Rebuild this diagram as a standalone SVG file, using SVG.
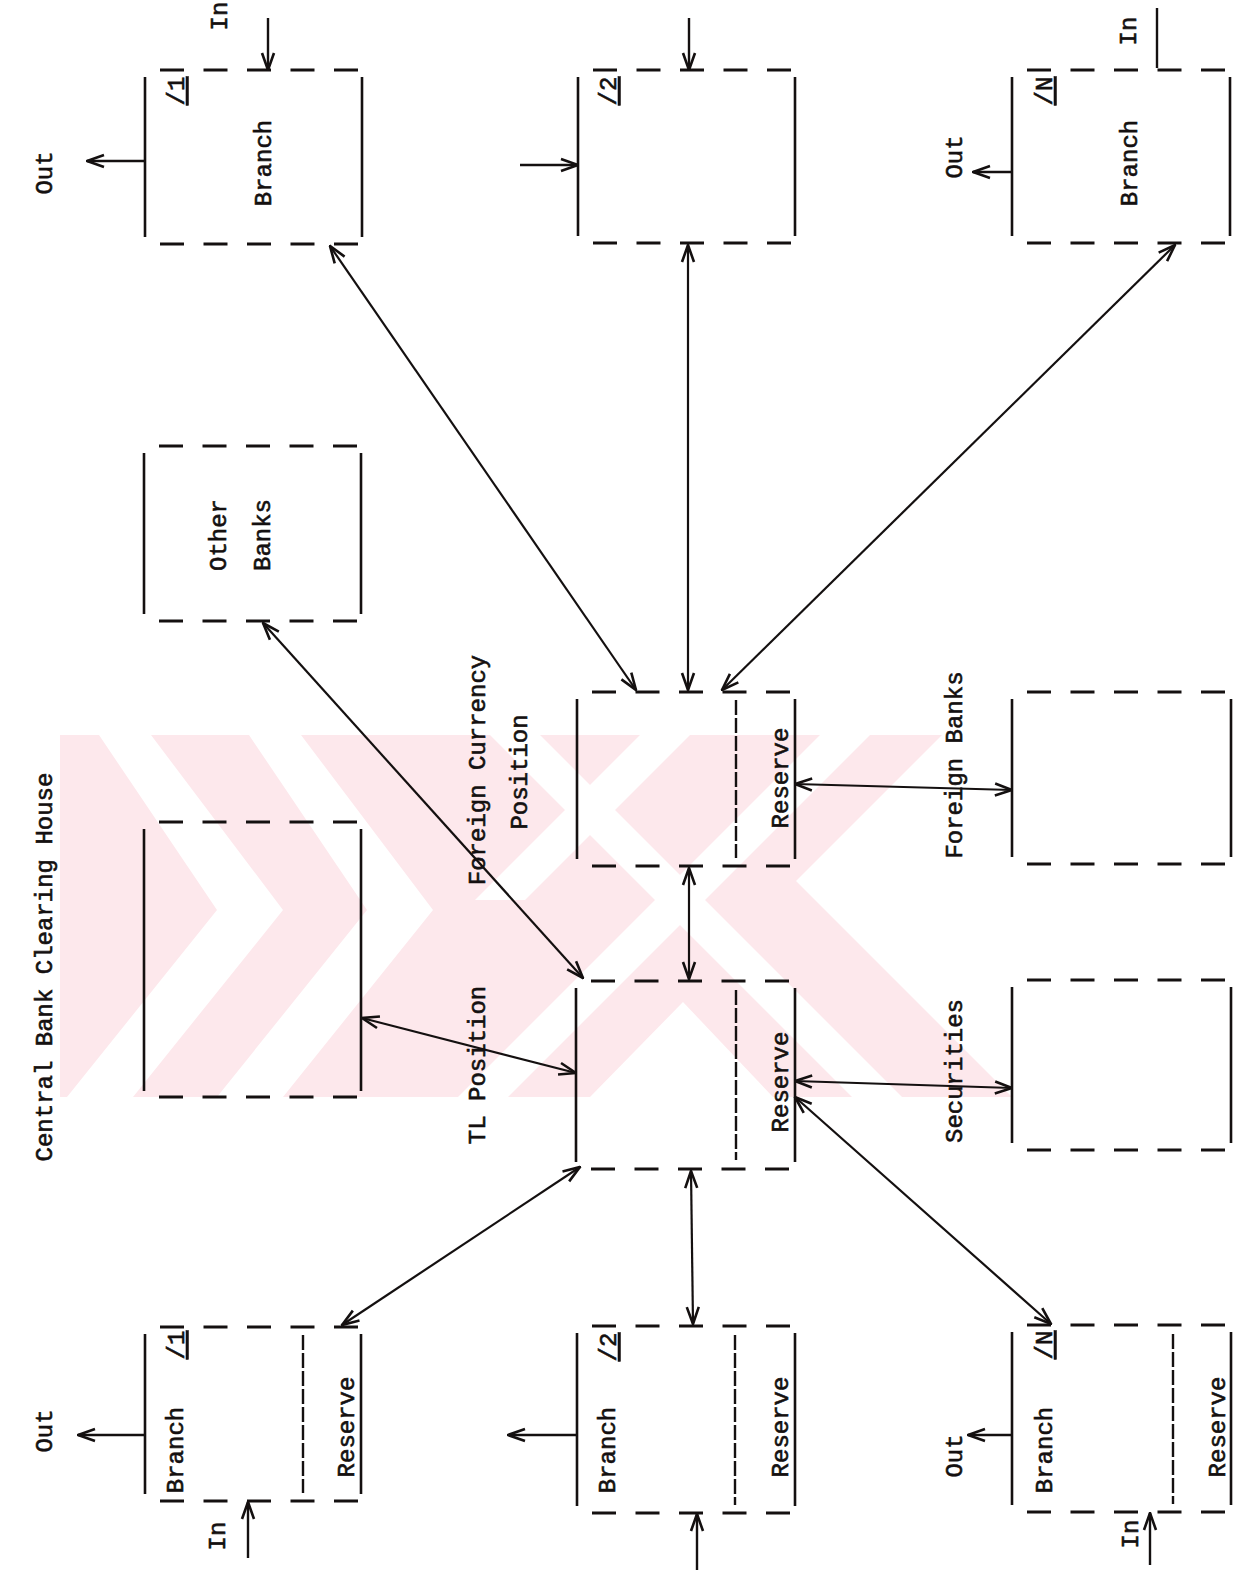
<svg xmlns="http://www.w3.org/2000/svg" width="1248" height="1572" viewBox="0 0 1248 1572">
<style>
.bg{fill:#ffffff}
.wm{fill:#fde8ec}
.wmw{fill:#ffffff}
.solid{stroke:#141010;stroke-width:2.6;fill:none}
.dash{stroke:#141010;stroke-width:3;fill:none;stroke-dasharray:24 19.5}
.inner{stroke:#141010;stroke-width:2.4;fill:none;stroke-dasharray:15 3}
.conn{stroke:#141010;stroke-width:2.2;fill:none;marker-start:url(#ah);marker-end:url(#ah)}
.one{stroke:#141010;stroke-width:2.4;fill:none;marker-end:url(#ah)}
.plain{stroke:#141010;stroke-width:2.4;fill:none}
text{font-family:"Liberation Mono","Courier New",monospace;font-size:24px;fill:#141010;stroke:#141010;stroke-width:0.6;text-anchor:middle}
.ul{text-decoration:underline}
</style>
<defs>
<marker id="ah" viewBox="0 0 20 16" markerWidth="20" markerHeight="16" refX="19" refY="8" orient="auto-start-reverse" markerUnits="userSpaceOnUse">
<path d="M2,2 L19,8 L2,14" fill="none" stroke="#141010" stroke-width="2.6"/>
</marker>
</defs>
<rect class="bg" x="0" y="0" width="1248" height="1572"/>

<g id="watermark">
<polygon class="wm" points="60,735 942,735 796,881 1012,1097 60,1097"/>
<polygon class="wmw" points="99,735 151,735 283,910 133,1097 67,1097 217,910"/>
<polygon class="wmw" points="249,735 301,735 433,910 283,1097 217,1097 367,910"/>
<polygon class="wmw" points="820,735 870,735 508,1097 458,1097"/>
<polygon class="wmw" points="490,735 540,735 902,1097 852,1097"/>
<polygon class="wmw" points="640,735 690,735 525,900 475,900"/>
<polygon class="wmw" points="683,1002 773,1097 590,1097"/>
</g>

<g id="branch1-top">
<line class="solid" x1="145" y1="77" x2="145" y2="237"/>
<line class="solid" x1="362" y1="77" x2="362" y2="237"/>
<line class="dash" x1="160" y1="70" x2="359" y2="70"/>
<line class="dash" x1="160" y1="244" x2="359" y2="244"/>
<text class="ul" transform="translate(184,91) rotate(-90)">/1</text>
<text transform="translate(271,163) rotate(-90)">Branch</text>
<text transform="translate(52,173) rotate(-90)">Out</text>
<text transform="translate(227,16) rotate(-90)">In</text>
</g>

<g id="branch2-top">
<line class="solid" x1="578" y1="77" x2="578" y2="236"/>
<line class="solid" x1="795" y1="77" x2="795" y2="236"/>
<line class="dash" x1="593" y1="70" x2="792" y2="70"/>
<line class="dash" x1="593" y1="243" x2="792" y2="243"/>
<text class="ul" transform="translate(616,91) rotate(-90)">/2</text>
</g>

<g id="branchN-top">
<line class="solid" x1="1012" y1="77" x2="1012" y2="236"/>
<line class="solid" x1="1230" y1="77" x2="1230" y2="236"/>
<line class="dash" x1="1027" y1="70" x2="1226" y2="70"/>
<line class="dash" x1="1027" y1="243" x2="1226" y2="243"/>
<text class="ul" transform="translate(1052,91) rotate(-90)">/N</text>
<text transform="translate(1137,163) rotate(-90)">Branch</text>
<text transform="translate(962,157) rotate(-90)">Out</text>
<text transform="translate(1136,31) rotate(-90)">In</text>
</g>

<g id="other-banks">
<line class="solid" x1="144" y1="453" x2="144" y2="614"/>
<line class="solid" x1="361" y1="453" x2="361" y2="614"/>
<line class="dash" x1="159" y1="446" x2="358" y2="446"/>
<line class="dash" x1="159" y1="621" x2="358" y2="621"/>
<text transform="translate(226,535) rotate(-90)">Other</text>
<text transform="translate(270,535) rotate(-90)">Banks</text>
</g>

<g id="central-bank">
<line class="solid" x1="144" y1="829" x2="144" y2="1091"/>
<line class="solid" x1="361" y1="829" x2="361" y2="1091"/>
<line class="dash" x1="159" y1="822" x2="358" y2="822"/>
<line class="dash" x1="159" y1="1097" x2="358" y2="1097"/>
<text transform="translate(52,967) rotate(-90)">Central Bank Clearing House</text>
</g>

<g id="fc-position">
<line class="solid" x1="577" y1="699" x2="577" y2="859"/>
<line class="solid" x1="795" y1="699" x2="795" y2="859"/>
<line class="inner" x1="736" y1="700" x2="736" y2="858"/>
<line class="dash" x1="592" y1="692" x2="791" y2="692"/>
<line class="dash" x1="592" y1="866" x2="791" y2="866"/>
<text transform="translate(485,770) rotate(-90)">Foreign Currency</text>
<text transform="translate(527,772) rotate(-90)">Position</text>
<text transform="translate(788,778) rotate(-90)">Reserve</text>
</g>

<g id="tl-position">
<line class="solid" x1="576" y1="988" x2="576" y2="1162"/>
<line class="solid" x1="795" y1="988" x2="795" y2="1162"/>
<line class="inner" x1="736" y1="990" x2="736" y2="1160"/>
<line class="dash" x1="591" y1="981" x2="791" y2="981"/>
<line class="dash" x1="591" y1="1169" x2="791" y2="1169"/>
<text transform="translate(485,1065) rotate(-90)">TL Position</text>
<text transform="translate(788,1082) rotate(-90)">Reserve</text>
</g>

<g id="foreign-banks">
<line class="solid" x1="1012" y1="699" x2="1012" y2="857"/>
<line class="solid" x1="1231" y1="699" x2="1231" y2="857"/>
<line class="dash" x1="1027" y1="692" x2="1227" y2="692"/>
<line class="dash" x1="1027" y1="864" x2="1227" y2="864"/>
<text transform="translate(962,765) rotate(-90)">Foreign Banks</text>
</g>

<g id="securities">
<line class="solid" x1="1012" y1="987" x2="1012" y2="1143"/>
<line class="solid" x1="1231" y1="987" x2="1231" y2="1143"/>
<line class="dash" x1="1027" y1="980" x2="1227" y2="980"/>
<line class="dash" x1="1027" y1="1150" x2="1227" y2="1150"/>
<text transform="translate(962,1071) rotate(-90)">Securities</text>
</g>

<g id="branch1-bottom">
<line class="solid" x1="145" y1="1334" x2="145" y2="1494"/>
<line class="solid" x1="361" y1="1334" x2="361" y2="1494"/>
<line class="inner" x1="303" y1="1335" x2="303" y2="1493"/>
<line class="dash" x1="160" y1="1327" x2="358" y2="1327"/>
<line class="dash" x1="160" y1="1501" x2="358" y2="1501"/>
<text class="ul" transform="translate(184,1345) rotate(-90)">/1</text>
<text transform="translate(183,1450) rotate(-90)">Branch</text>
<text transform="translate(354,1427) rotate(-90)">Reserve</text>
<text transform="translate(52,1431) rotate(-90)">Out</text>
<text transform="translate(225,1536) rotate(-90)">In</text>
</g>

<g id="branch2-bottom">
<line class="solid" x1="577" y1="1333" x2="577" y2="1506"/>
<line class="solid" x1="795" y1="1333" x2="795" y2="1506"/>
<line class="inner" x1="735" y1="1335" x2="735" y2="1505"/>
<line class="dash" x1="592" y1="1326" x2="791" y2="1326"/>
<line class="dash" x1="592" y1="1513" x2="791" y2="1513"/>
<text class="ul" transform="translate(616,1347) rotate(-90)">/2</text>
<text transform="translate(615,1450) rotate(-90)">Branch</text>
<text transform="translate(788,1427) rotate(-90)">Reserve</text>
</g>

<g id="branchN-bottom">
<line class="solid" x1="1012" y1="1332" x2="1012" y2="1505"/>
<line class="solid" x1="1231" y1="1332" x2="1231" y2="1505"/>
<line class="inner" x1="1173" y1="1334" x2="1173" y2="1504"/>
<line class="dash" x1="1027" y1="1325" x2="1227" y2="1325"/>
<line class="dash" x1="1027" y1="1512" x2="1227" y2="1512"/>
<text class="ul" transform="translate(1052,1345) rotate(-90)">/N</text>
<text transform="translate(1052,1450) rotate(-90)">Branch</text>
<text transform="translate(1225,1427) rotate(-90)">Reserve</text>
<text transform="translate(962,1456) rotate(-90)">Out</text>
<text transform="translate(1138,1534) rotate(-90)">In</text>
</g>

<g id="connectors">
<line class="conn" x1="330" y1="246" x2="636" y2="690"/>
<line class="conn" x1="688" y1="245" x2="688" y2="690"/>
<line class="conn" x1="1175" y1="245" x2="722" y2="690"/>
<line class="conn" x1="263" y1="623" x2="583" y2="978"/>
<line class="conn" x1="362" y1="1018" x2="576" y2="1073"/>
<line class="conn" x1="689" y1="868" x2="689" y2="979"/>
<line class="conn" x1="795" y1="784" x2="1012" y2="790"/>
<line class="conn" x1="795" y1="1081" x2="1012" y2="1088"/>
<line class="conn" x1="795" y1="1097" x2="1051" y2="1324"/>
<line class="conn" x1="580" y1="1167" x2="342" y2="1325"/>
<line class="conn" x1="691" y1="1171" x2="693" y2="1324"/>
<line class="one" x1="145" y1="161" x2="87" y2="161"/>
<line class="one" x1="268" y1="18" x2="268" y2="70"/>
<line class="one" x1="520" y1="165" x2="578" y2="165"/>
<line class="one" x1="689" y1="18" x2="689" y2="70"/>
<line class="one" x1="1012" y1="172" x2="973" y2="172"/>
<line class="plain" x1="1157" y1="8" x2="1157" y2="68"/>
<line class="one" x1="145" y1="1435" x2="78" y2="1435"/>
<line class="one" x1="248" y1="1558" x2="248" y2="1502"/>
<line class="one" x1="577" y1="1435" x2="508" y2="1435"/>
<line class="one" x1="697" y1="1570" x2="697" y2="1514"/>
<line class="one" x1="1012" y1="1435" x2="968" y2="1435"/>
<line class="one" x1="1150" y1="1565" x2="1150" y2="1513"/>
</g>
</svg>
